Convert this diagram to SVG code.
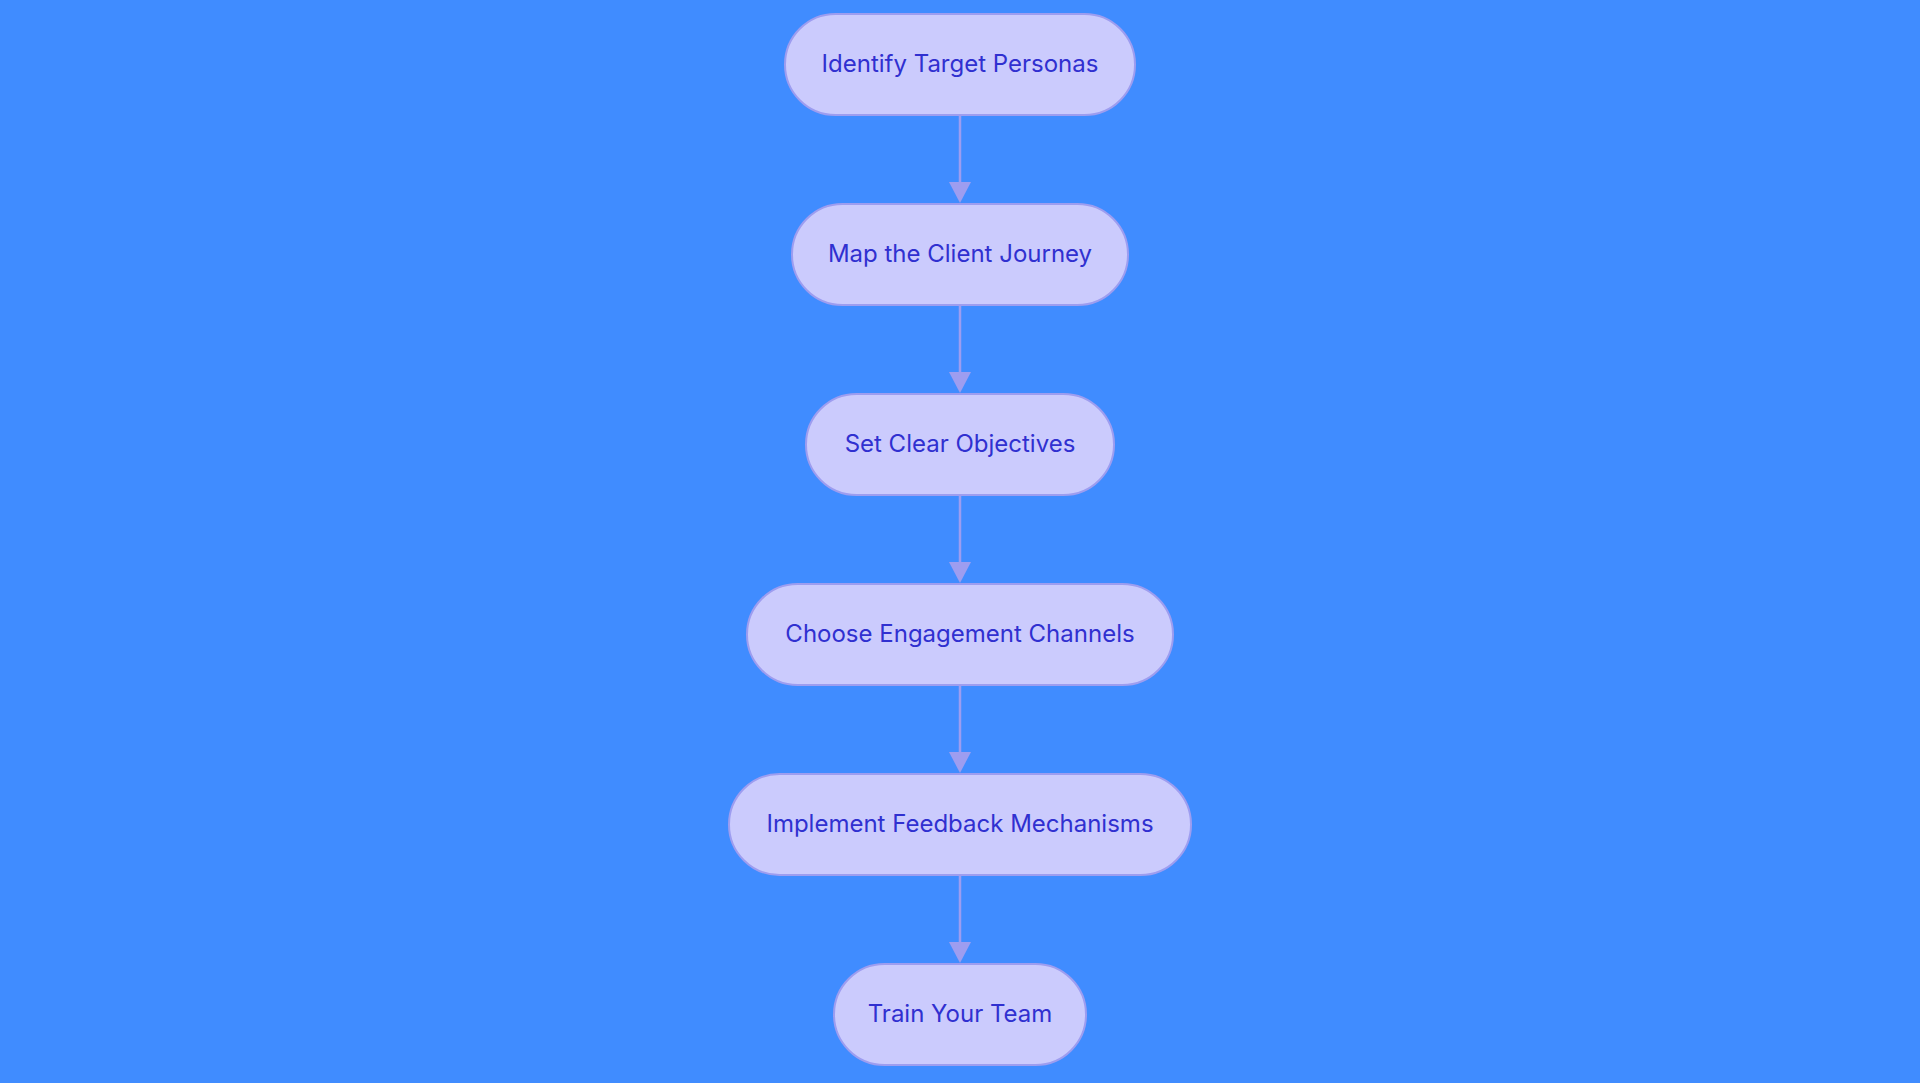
<svg xmlns="http://www.w3.org/2000/svg" width="1920" height="1083" viewBox="0 0 1920 1083">
<defs>
<style>
.node rect{fill:#cbcbfd;stroke:#9d9df0;stroke-width:2}
.node text{font-family:Inter,"Open Sans",sans-serif;font-size:24px;fill:#3030d0;text-anchor:middle}
.edge{stroke:#9d9df0;stroke-width:2.5;fill:none;marker-end:url(#arrow)}
</style>
<marker id="arrow" viewBox="0 0 21 22" refX="17" refY="11" markerWidth="21" markerHeight="22" markerUnits="userSpaceOnUse" orient="auto">
<path d="M0,0 L21,11 L0,22 z" fill="#9d9df0"/>
</marker>
</defs>
<rect width="1920" height="1083" fill="#408cff"/>
<g id="connectors">
<line class="edge" x1="960" y1="115" x2="960" y2="199"/>
<line class="edge" x1="960" y1="305" x2="960" y2="389"/>
<line class="edge" x1="960" y1="495" x2="960" y2="579"/>
<line class="edge" x1="960" y1="685" x2="960" y2="769"/>
<line class="edge" x1="960" y1="875" x2="960" y2="959"/>
</g>
<g id="n1" class="node"><rect x="785" y="14" width="350" height="101" rx="50.5"/><text x="960" y="72">Identify Target Personas</text></g>
<g id="n2" class="node"><rect x="792" y="204" width="336" height="101" rx="50.5"/><text x="960" y="262">Map the Client Journey</text></g>
<g id="n3" class="node"><rect x="806" y="394" width="308" height="101" rx="50.5"/><text x="960" y="452">Set Clear Objectives</text></g>
<g id="n4" class="node"><rect x="747" y="584" width="426" height="101" rx="50.5"/><text x="960" y="642">Choose Engagement Channels</text></g>
<g id="n5" class="node"><rect x="729" y="774" width="462" height="101" rx="50.5"/><text x="960" y="832">Implement Feedback Mechanisms</text></g>
<g id="n6" class="node"><rect x="834" y="964" width="252" height="101" rx="50.5"/><text x="960" y="1022">Train Your Team</text></g>
</svg>
